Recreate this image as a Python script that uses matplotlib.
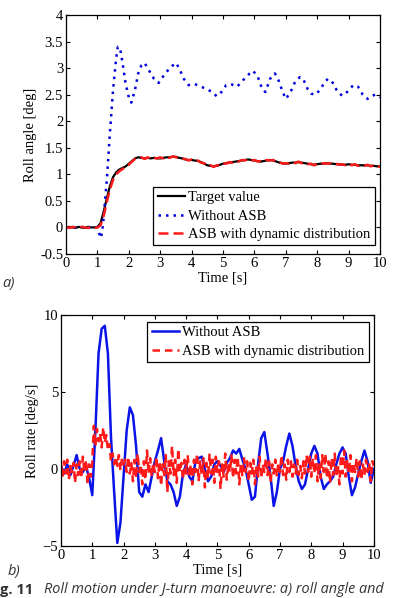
import matplotlib.pyplot as plt

# a) roll angle
t_target = [i / 10 for i in range(101)]
target = [0, 0.01, 0, -0.01, 0.01, 0, -0.01, 0.01, 0, 0, 0.01,
          0.08, 0.3, 0.55, 0.78, 0.95, 1.04, 1.09, 1.12, 1.15, 1.2,
          1.25, 1.3, 1.32, 1.31, 1.3, 1.31, 1.3, 1.31, 1.3, 1.3,
          1.31, 1.32, 1.32, 1.33, 1.33, 1.31, 1.3, 1.28, 1.27, 1.27,
          1.26, 1.25, 1.23, 1.2, 1.17, 1.16, 1.15, 1.16, 1.18, 1.2,
          1.21, 1.22, 1.23, 1.24, 1.25, 1.26, 1.27, 1.28, 1.27, 1.26,
          1.25, 1.24, 1.25, 1.26, 1.27, 1.26, 1.24, 1.22, 1.21, 1.2,
          1.21, 1.22, 1.22, 1.23, 1.22, 1.21, 1.2, 1.19, 1.18, 1.19,
          1.2, 1.2, 1.21, 1.2, 1.2, 1.19, 1.19, 1.18, 1.18, 1.19,
          1.18, 1.18, 1.17, 1.17, 1.17, 1.17, 1.16, 1.16, 1.15, 1.15]
asb_angle = [0.01, -0.01, 0.01, 0, -0.01, 0.01, 0, -0.01, 0.01, -0.01, 0,
             0.04, 0.22, 0.48, 0.72, 0.9, 1.0, 1.06, 1.1, 1.13, 1.18,
             1.24, 1.29, 1.31, 1.32, 1.29, 1.32, 1.29, 1.31, 1.3, 1.32,
             1.3, 1.33, 1.31, 1.34, 1.32, 1.31, 1.29, 1.29, 1.26, 1.28,
             1.25, 1.26, 1.22, 1.21, 1.16, 1.17, 1.14, 1.17, 1.17, 1.21,
             1.2, 1.23, 1.22, 1.25, 1.24, 1.27, 1.26, 1.29, 1.26, 1.27,
             1.24, 1.25, 1.24, 1.27, 1.26, 1.27, 1.23, 1.23, 1.2, 1.21,
             1.2, 1.23, 1.21, 1.24, 1.21, 1.22, 1.19, 1.2, 1.17, 1.2,
             1.19, 1.21, 1.2, 1.21, 1.19, 1.2, 1.18, 1.19, 1.17, 1.2,
             1.17, 1.19, 1.16, 1.18, 1.16, 1.18, 1.15, 1.17, 1.14, 1.15]
t_noasb = [0, 0.2, 0.4, 0.6, 0.8, 1.0, 1.05, 1.1, 1.15, 1.2, 1.3, 1.4, 1.5,
           1.6, 1.65, 1.72, 1.8, 1.9, 2.0, 2.08, 2.2, 2.3, 2.4, 2.5, 2.65,
           2.8, 2.95, 3.1, 3.3, 3.5, 3.6, 3.75, 3.9, 4.1, 4.3, 4.5, 4.65,
           4.8, 4.95, 5.1, 5.25, 5.45, 5.65, 5.85, 5.95, 6.1, 6.25, 6.35,
           6.5, 6.65, 6.75, 6.9, 7.0, 7.15, 7.3, 7.45, 7.55, 7.7, 7.8,
           7.95, 8.1, 8.25, 8.35, 8.5, 8.65, 8.8, 8.95, 9.15, 9.3, 9.45,
           9.6, 9.75, 9.85, 10.0]
noasb_angle = [0, 0.01, -0.01, 0.02, 0, 0, -0.1, -0.2, -0.1, 0.2, 0.9, 1.8,
               2.6, 3.2, 3.4, 3.38, 3.1, 2.7, 2.45, 2.35, 2.6, 2.9, 3.05,
               3.1, 2.95, 2.8, 2.72, 2.85, 3.0, 3.1, 3.0, 2.8, 2.68, 2.7,
               2.65, 2.6, 2.55, 2.47, 2.55, 2.68, 2.7, 2.65, 2.78, 2.9,
               2.95, 2.85, 2.6, 2.55, 2.8, 2.9, 2.8, 2.55, 2.42, 2.55,
               2.75, 2.83, 2.8, 2.6, 2.52, 2.5, 2.6, 2.75, 2.8, 2.72, 2.55,
               2.48, 2.55, 2.68, 2.65, 2.5, 2.42, 2.48, 2.5, 2.45]

# b) roll rate
t_rate = [i / 10 for i in range(101)]
noasb_rate = [0.2, -0.3, 0.3, -0.4, 0.2, 0.9, 0.0, -0.2, 0.2, -0.6,
              -1.7, 2.5, 7.5, 9.1, 9.3, 7.5, 2.0, -1.5, -4.8, -3.5,
              -0.5, 2.5, 4.0, 3.5, 1.5, -1.5, -1.8, -1.0, -1.5, -0.5,
              0.5, 1.2, 2.0, 0.5, -0.8, -1.0, -1.5, -2.4, -1.8, -0.3,
              0.3, -0.5, -0.8, 0.5, 0.7, 0.8, 0.0, -0.8, -0.5, 0.3,
              0.5, 0.2, -0.2, 0.4, 0.7, 1.2, 1.0, 1.3, 0.6, 0.0,
              -1.0, -2.0, -1.8, 0.3, 2.0, 2.4, 1.0, -0.5, -2.4, -1.5,
              0.0, 0.5, 1.5, 2.3, 1.5, 0.2, -0.8, -1.3, -1.0, 0.0,
              1.0, 1.5, 1.0, -0.5, -1.3, -1.0, -0.8, -0.5, 0.3, 1.0,
              1.4, 1.0, -0.5, -1.7, -1.2, -0.3, 0.5, 1.2, 0.5, -0.9, 0.0]
t_asb_rate = [i / 20 for i in range(201)]
asb_rate = [0.3, -0.5, 0.5, -0.3, 0.6, -0.7, 0.2, -0.2, 0.4, -0.9, 0.3,
            -0.4, 0.5, -0.6, 0.8, -0.2, 0.6, -1.0, 0.3, -0.5, 0.4,
            2.8, 1.5, 2.6, 1.8, 2.3, 1.4, 2.7, 1.7, 2.2, 1.2,
            1.6, 0.5, 1.0, 0.3, 0.8, 0.2, 0.9, -0.1, 0.7, 0.3,
            0.6, -0.2, 0.8, -0.3, 0.4, -0.8, 0.6, -0.6, 1.0, -0.2,
            0.3, -1.0, 0.5, -0.7, 1.2, -0.3, 0.7, -0.5, 0.4, -0.2,
            0.8, -0.6, 0.5, -1.1, 0.3, -0.4, 0.9, -1.5, 0.5, -0.3,
            1.5, -0.4, 0.6, -0.9, 1.3, -0.2, 0.4, -0.7, 0.6, -0.3,
            0.9, -0.5, 0.3, -1.0, 0.6, -0.2, 1.0, -0.8, 0.5, -0.4,
            0.7, -1.2, 0.4, -0.6, 1.0, -0.3, 0.6, -0.9, 0.8, -0.2,
            0.5, -1.3, 0.3, -0.5, 1.0, -0.7, 0.4, -0.2, 0.9, -0.6,
            0.6, -0.3, 0.8, -1.0, 0.3, -0.5, 0.7, -0.2, 0.5, -0.8,
            0.4, -0.3, 0.6, -1.0, 0.2, -0.5, 0.8, -0.6, 0.3, -0.2,
            0.7, -0.4, 0.5, -0.9, 0.3, -0.3, 0.6, -0.5, 0.4, -0.2,
            0.9, -0.4, 0.3, -0.7, 0.6, -0.2, 0.5, -0.5, 0.3, -0.3,
            0.6, -0.4, 0.2, -0.6, 0.5, -0.3, 0.9, -0.2, 0.8, -0.5,
            0.7, -0.3, 0.9, -0.8, 0.4, -0.6, 0.9, -0.2, 1.0, -0.6,
            0.5, -0.9, 0.7, -0.4, 1.0, -0.5, 0.3, -1.0, 0.9, -0.3,
            1.2, -0.5, 0.6, -0.3, 0.9, -0.8, 0.4, -0.2, 0.7, -0.5,
            0.5, -0.7, 0.3, -0.4, 0.6, -0.2, 0.4, -0.8, 0.5, 0.2]

x_ticks = list(range(11))

plt.rcParams['font.family'] = 'Liberation Serif'
plt.rcParams['font.size'] = 10.5

fig = plt.figure(figsize=(3.96, 5.98), dpi=100)


def style(ax):
    ax.tick_params(direction='in', top=True, right=True, length=3, width=0.8, pad=2)
    for s in ax.spines.values():
        s.set_linewidth(0.9)
    ax.set_xlim(0, 10)
    ax.set_xticks(x_ticks)
    ax.set_xlabel('Time [s]', labelpad=1.5)


leg_kw = dict(fancybox=False, edgecolor='black', framealpha=1, handlelength=1.9,
              handletextpad=0.2, borderpad=0.3, labelspacing=0.35, fontsize=10.5,
              borderaxespad=0)

ax1 = fig.add_axes([0.1667, 0.5753, 0.793, 0.3996])
ax1.plot(t_target, target, color='black', lw=1.6, label='Target value')
ax1.plot(t_noasb, noasb_angle, color='#0000dd', lw=1.8, ls=(0, (1, 2)), label='Without ASB')
ax1.plot(t_target, asb_angle, color='#ff1a1a', lw=1.8, ls=(0, (4, 2)),
         label='ASB with dynamic distribution')
style(ax1)
ax1.set_ylim(-0.5, 4)
ax1.set_yticks([-0.5, 0, 0.5, 1, 1.5, 2, 2.5, 3, 3.5, 4])
ax1.set_yticklabels(['-0.5', '0', '0.5', '1', '1.5', '2', '2.5', '3', '3.5', '4'])
ax1.set_ylabel('Roll angle [deg]', labelpad=2)
leg1 = ax1.legend(loc='lower right', bbox_to_anchor=(0.984, 0.036), **leg_kw)
leg1.get_frame().set_linewidth(0.9)

ax2 = fig.add_axes([0.154, 0.0870, 0.790, 0.3863])
ax2.plot(t_rate, noasb_rate, color='#0a14e6', lw=1.8, label='Without ASB')
ax2.plot(t_asb_rate, asb_rate, color='#ff1a1a', lw=1.8, ls=(0, (3, 2)),
         label='ASB with dynamic distribution')
style(ax2)
ax2.set_ylim(-5, 10)
ax2.set_yticks([-5, 0, 5, 10])
ax2.set_ylabel('Roll rate [deg/s]', labelpad=2.5)
leg2 = ax2.legend(loc='upper right', bbox_to_anchor=(0.984, 0.97), **leg_kw)
leg2.get_frame().set_linewidth(0.9)

fig.text(0.005, 1 - 283 / 598, 'a)', family='Open Sans', style='italic',
         fontsize=10.5, color='#333333', va='center')
fig.text(0.02, 1 - 572 / 598, 'b)', family='Open Sans', style='italic',
         fontsize=10.5, color='#333333', va='center')

# caption: only the part that shows at the bottom edge of the reference
fig.text(0.0, 0.001, 'g. 11', family='Open Sans', weight='bold',
         fontsize=10.5, color='#333333', va='bottom')
cap = fig.text(0.11, 0.001, 'Roll motion under J-turn manoeuvre: a) roll angle and',
               family='Open Sans', style='italic', fontsize=10, color='#333333',
               va='bottom')
w = cap.get_window_extent(fig.canvas.get_renderer()).width
cap.set_fontsize(10 * 340 / w)

plt.savefig('out.png', dpi=100)
